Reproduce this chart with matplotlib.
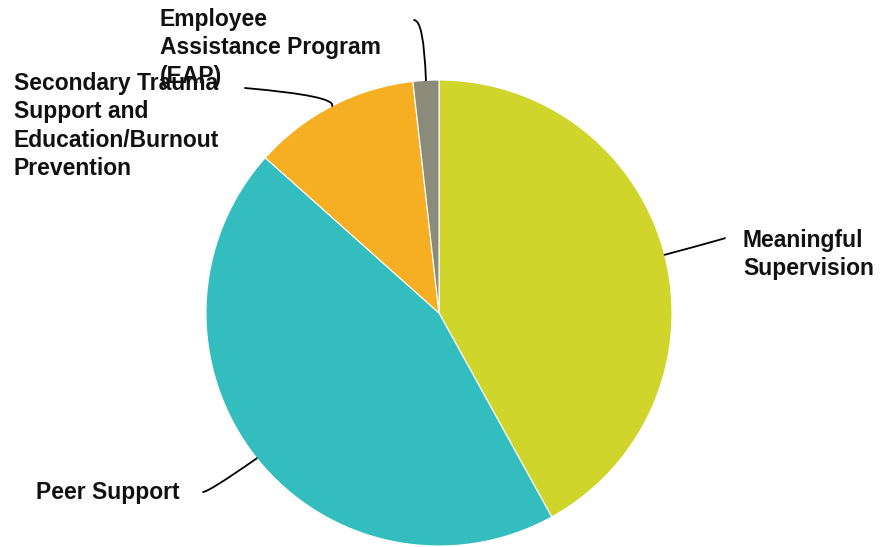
import numpy as np
from matplotlib import pyplot as plt

plt.rcParams['font.family'] = ['Liberation Sans', 'DejaVu Sans']

labels = ["Meaningful\nSupervision", "Peer Support",
          "Secondary Trauma\nSupport and\nEducation/Burnout\nPrevention",
          "Employee\nAssistance Program\n(EAP)"]
counts = [47, 50, 13, 2]
colors = ["#CFD52A", "#34BDBF", "#F6AF22", "#8B8B7B"]

# label text (left, top) and leader start, in image pixels
text_pos = [(743, 229), (36, 481), (14, 72), (160, 8)]
line_end = [(725, 238), (203, 492), (245, 88), (414, 20)]
conn_angles = [(10, 15), (0, 35), (-5, 65), (0, 92)]

W, H = 886, 547
cx, cy, r = 439, H - 313, 233

fig = plt.figure(figsize=(W / 100, H / 100), dpi=100)
ax = fig.add_axes([0, 0, 1, 1])

wedges, _ = ax.pie(counts, colors=colors, startangle=90, counterclock=False,
                   center=(cx, cy), radius=r, frame=True,
                   wedgeprops=dict(edgecolor='white', linewidth=0.8))
ax.set_xlim(0, W)
ax.set_ylim(0, H)
ax.set_aspect('equal')
ax.axis('off')

for w, lab, tp, le, (a, b) in zip(wedges, labels, text_pos, line_end, conn_angles):
    mid = np.deg2rad((w.theta1 + w.theta2) / 2)
    anchor = (cx + r * np.cos(mid), cy + r * np.sin(mid))
    ax.text(tp[0], H - tp[1], lab, ha='left', va='top', fontsize=16.5,
            fontweight='bold', linespacing=1.3, color='#111111')
    ax.annotate('', xy=anchor, xytext=(le[0], H - le[1]),
                arrowprops=dict(arrowstyle='-', color='black', lw=1.3,
                                shrinkA=0, shrinkB=0,
                                connectionstyle=f"angle3,angleA={a},angleB={b}"))

fig.savefig('out.png', dpi=100)
